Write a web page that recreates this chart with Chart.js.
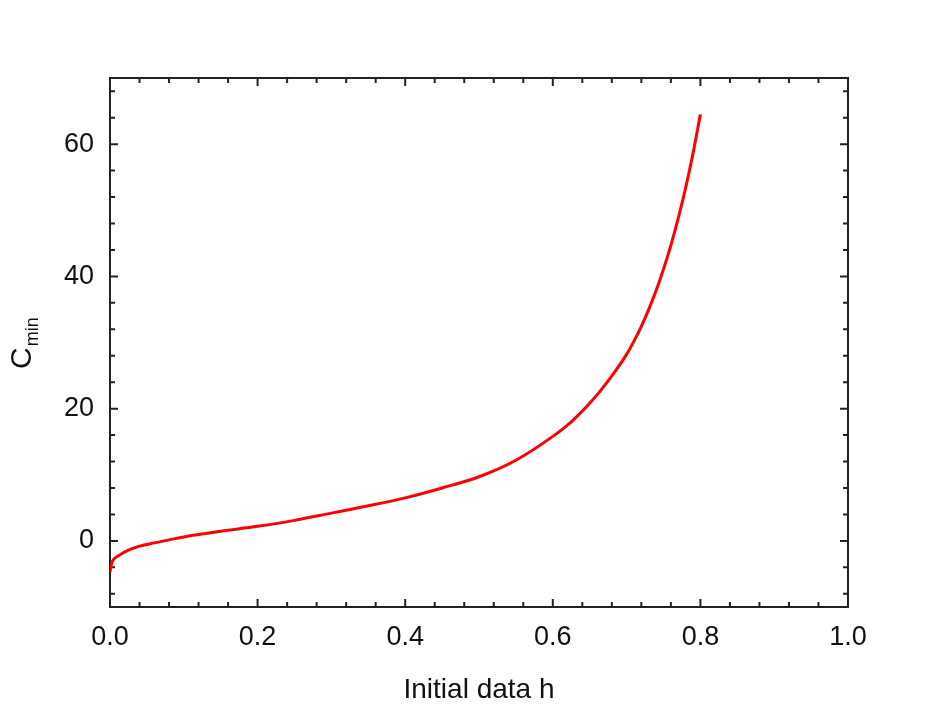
<!DOCTYPE html>
<html>
<head>
<meta charset="utf-8">
<title>Cmin</title>
<script src="https://cdn.jsdelivr.net/npm/chart.js@4.4.0/dist/chart.umd.min.js"></script>
<style>
    body { margin: 0; background: #ffffff; }
    canvas { display: block; }
</style>
</head>
<body>
<canvas id="grafico" width="930" height="709"></canvas>
<script>
var valoresH = [0, 0.002, 0.005, 0.012, 0.025, 0.04, 0.06, 0.08, 0.1, 0.15, 0.2, 0.25, 0.3, 0.35, 0.4, 0.45,
    0.5, 0.55, 0.6, 0.625, 0.65, 0.675, 0.7, 0.71, 0.72, 0.73, 0.74, 0.75, 0.76, 0.77, 0.78, 0.79, 0.8];
var valoresCmin = [-4.7, -3.5, -2.8, -2.2, -1.4, -0.8, -0.3, 0.15, 0.6, 1.45, 2.2, 3.1, 4.2, 5.3, 6.5, 8.0,
    9.7, 12.2, 15.8, 18.0, 20.8, 24.2, 28.2, 30.2, 32.45, 35.0, 37.85, 41.1, 44.7, 48.8, 53.4, 58.6, 64.5];
var etiquetasX = [0, 0.2, 0.4, 0.6, 0.8, 1.0];
var etiquetasY = [0, 20, 40, 60];
var rangoX = [0, 1];
var rangoY = [-10, 70];
var pasoMenorX = 0.04;
var pasoMenorY = 4;
var tituloX = 'Initial data h';
var tituloY = ['C', 'min'];

function esMayor(v, lista) {
    for (var i = 0; i < lista.length; i++) {
        if (Math.abs(lista[i] - v) < 1e-6) return true;
    }
    return false;
}

// marco con ticks hacia adentro en los cuatro lados
var marcoPlugin = {
    id: 'marco',
    beforeDatasetsDraw: function (chart) {
        var ctx = chart.ctx;
        var a = chart.chartArea;
        var sx = chart.scales.x;
        var sy = chart.scales.y;
        ctx.save();
        ctx.strokeStyle = '#222222';
        ctx.lineWidth = 2;
        ctx.beginPath();
        var n = Math.round((rangoX[1] - rangoX[0]) / pasoMenorX);
        for (var i = 1; i < n; i++) {
            var v = rangoX[0] + i * pasoMenorX;
            var largo = esMayor(v, etiquetasX) ? 8 : 5;
            var px = sx.getPixelForValue(v);
            ctx.moveTo(px, a.bottom);
            ctx.lineTo(px, a.bottom - largo);
            ctx.moveTo(px, a.top);
            ctx.lineTo(px, a.top + largo);
        }
        var inicio = Math.ceil(rangoY[0] / pasoMenorY) * pasoMenorY;
        for (var w = inicio; w < rangoY[1]; w += pasoMenorY) {
            if (w <= rangoY[0]) continue;
            var largoY = esMayor(w, etiquetasY) ? 8 : 5;
            var py = sy.getPixelForValue(w);
            ctx.moveTo(a.left, py);
            ctx.lineTo(a.left + largoY, py);
            ctx.moveTo(a.right, py);
            ctx.lineTo(a.right - largoY, py);
        }
        ctx.stroke();
        ctx.strokeRect(a.left, a.top, a.right - a.left, a.bottom - a.top);
        ctx.restore();
    },
    afterDraw: function (chart) {
        // titulo del eje y con subindice
        var ctx = chart.ctx;
        ctx.save();
        ctx.fillStyle = '#111111';
        ctx.translate(31, 369);
        ctx.rotate(-Math.PI / 2);
        ctx.textAlign = 'left';
        ctx.textBaseline = 'alphabetic';
        ctx.font = '30px "Liberation Sans", Arial, sans-serif';
        ctx.fillText(tituloY[0], 0, 0);
        var ancho = ctx.measureText(tituloY[0]).width;
        ctx.font = '18px "Liberation Sans", Arial, sans-serif';
        ctx.fillText(tituloY[1], ancho + 1, 7);
        ctx.restore();
    }
};

function graficoCmin() {
    var puntos = [];
    for (var i = 0; i < valoresH.length; i++) {
        puntos.push({x: valoresH[i], y: valoresCmin[i]});
    }
    var fuente = {family: '"Liberation Sans", Arial, sans-serif', size: 27};
    var config = {
        type: 'line',
        data: {
            datasets: [{
                    data: puntos,
                    borderColor: '#ff0000',
                    borderWidth: 3,
                    pointRadius: 0,
                    fill: false,
                    cubicInterpolationMode: 'monotone'
                }]
        },
        options: {
            responsive: false,
            animation: false,
            layout: {padding: {left: 0, top: 78, right: 82, bottom: 0}},
            plugins: {legend: {display: false}, tooltip: {enabled: false}},
            scales: {
                x: {
                    type: 'linear',
                    min: rangoX[0],
                    max: rangoX[1],
                    grid: {display: false, drawTicks: false},
                    border: {display: false},
                    afterBuildTicks: function (scale) {
                        scale.ticks = etiquetasX.map(function (v) { return {value: v}; });
                    },
                    afterFit: function (scale) { scale.height = 102; },
                    ticks: {
                        padding: 14,
                        color: '#111111',
                        font: fuente,
                        maxRotation: 0,
                        callback: function (v) { return Number(v).toFixed(1); }
                    },
                    title: {
                        display: true,
                        text: tituloX,
                        color: '#111111',
                        font: {family: '"Liberation Sans", Arial, sans-serif', size: 28},
                        padding: {top: 0, bottom: 2}
                    }
                },
                y: {
                    type: 'linear',
                    min: rangoY[0],
                    max: rangoY[1],
                    grid: {display: false, drawTicks: false},
                    border: {display: false},
                    afterBuildTicks: function (scale) {
                        scale.ticks = etiquetasY.map(function (v) { return {value: v}; });
                    },
                    afterFit: function (scale) { scale.width = 110; },
                    ticks: {
                        padding: 16,
                        color: '#111111',
                        font: fuente
                    }
                }
            }
        },
        plugins: [marcoPlugin]
    };
    var ctx = document.getElementById('grafico').getContext('2d');
    window.miGrafico = new Chart(ctx, config);
}

graficoCmin();
</script>
</body>
</html>
